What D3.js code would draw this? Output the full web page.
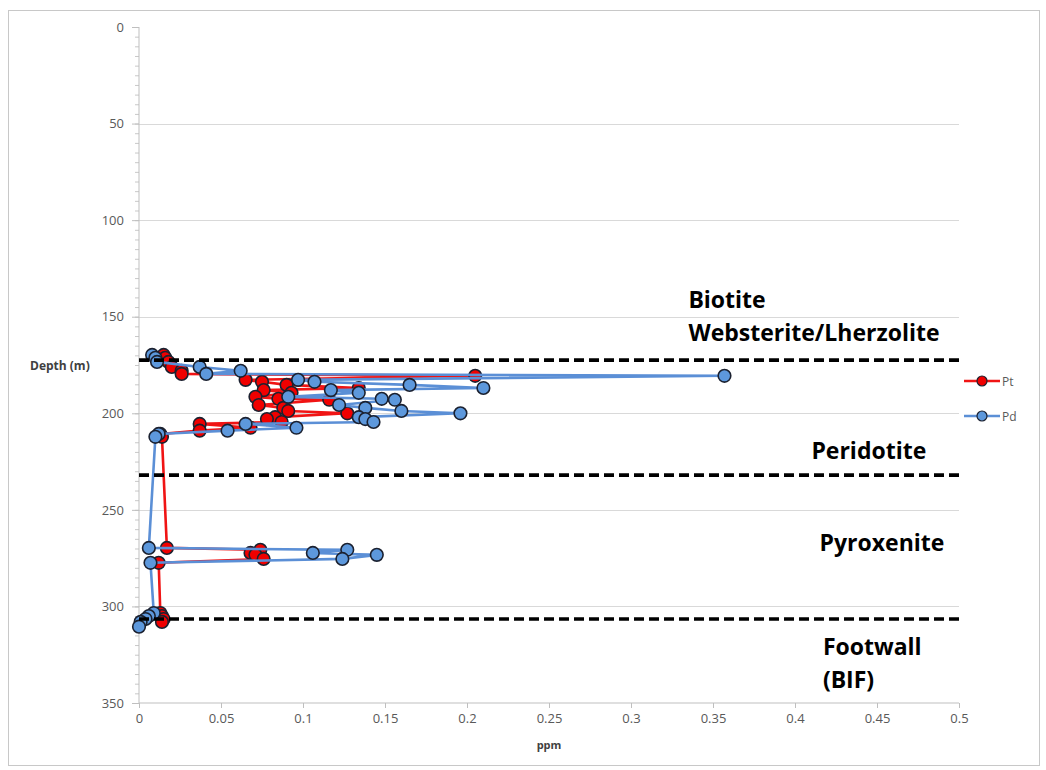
<!DOCTYPE html>
<html>
<head>
<meta charset="utf-8">
<script src="https://cdn.jsdelivr.net/npm/d3@7"></script>
<style>
  html, body { margin: 0; padding: 0; background: #fff; }
  svg { display: block; }
</style>
</head>
<body>
<svg id="chart" width="1046" height="770"></svg>
<script>
// Sample depths (m) and assay values (ppm) for Pt and Pd
const depth = [169.8, 171.3, 173.4, 176.0, 178.0, 179.6, 180.6, 182.7, 183.7, 185.3,
               186.9, 188.0, 189.4, 191.5, 192.5, 193.0, 195.7, 197.2, 198.8, 200.0,
               202.0, 203.0, 204.5, 205.5, 207.5, 209.0, 210.7, 212.2,
               269.7, 270.7, 272.3, 273.3, 275.4, 277.4,
               303.4, 305.0, 306.5, 308.0, 310.5];
const pt = [0.015, 0.016, 0.018, 0.020, 0.026, 0.026, 0.205, 0.065, 0.075, 0.090,
            0.134, 0.076, 0.093, 0.071, 0.085, 0.116, 0.073, 0.088, 0.091, 0.127,
            0.083, 0.078, 0.087, 0.037, 0.068, 0.037, 0.013, 0.014,
            0.017, 0.074, 0.068, 0.071, 0.076, 0.012,
            0.013, 0.014, 0.015, 0.014, null];
const pd = [0.008, 0.010, 0.011, 0.037, 0.062, 0.041, 0.357, 0.097, 0.107, 0.165,
            0.210, 0.117, 0.134, 0.091, 0.148, 0.156, 0.122, 0.138, 0.160, 0.196,
            0.134, 0.138, 0.143, 0.065, 0.096, 0.054, 0.012, 0.010,
            0.006, 0.127, 0.106, 0.145, 0.124, 0.007,
            0.009, 0.006, 0.004, 0.001, 0.000];

const seriesNames = ["Pt", "Pd"];
const xTicks = [0, 0.05, 0.1, 0.15, 0.2, 0.25, 0.3, 0.35, 0.4, 0.45, 0.5];
const yTicks = [0, 50, 100, 150, 200, 250, 300, 350];

// Unit boundaries (dashed) and unit names
const boundaries = [172.5, 232, 306.5];
const unitLabels = [
  { lines: ["Biotite", "Websterite/Lherzolite"], depth: 145.5, ppm: 0.335 },
  { lines: ["Peridotite"], depth: 223.5, ppm: 0.41 },
  { lines: ["Pyroxenite"], depth: 271.5, ppm: 0.415 },
  { lines: ["Footwall", "(BIF)"], depth: 325, ppm: 0.417 }
];

const svg = d3.select("#chart");
const margin = { left: 139, right: 87, top: 27, bottom: 67 };
const W = 1046, H = 770;
const x = d3.scaleLinear().domain([0, 0.5]).range([margin.left, W - margin.right]);
const y = d3.scaleLinear().domain([0, 350]).range([margin.top, H - margin.bottom]);

const font = "'Open Sans', 'Liberation Sans', sans-serif";
const colors = { Pt: { line: "#f01414", fill: "#f00000" }, Pd: { line: "#5b8fd6", fill: "#5d98dc" } };

// Outer chart frame
svg.append("rect").attr("x", 8.5).attr("y", 10.5).attr("width", 1031).attr("height", 755)
  .attr("fill", "none").attr("stroke", "#c8c8c8").attr("stroke-width", 1);

// Horizontal gridlines
svg.append("g").selectAll("line").data(yTicks.filter(t => t > 0 && t < 350)).join("line")
  .attr("x1", x(0)).attr("x2", x(0.5))
  .attr("y1", d => Math.round(y(d)) + 0.5).attr("y2", d => Math.round(y(d)) + 0.5)
  .attr("stroke", "#d9d9d9").attr("stroke-width", 1.2);

// Y axis with minor ticks every 5 m
const yMinor = d3.axisLeft(y).tickValues(d3.range(0, 351, 5)).tickSize(4).tickFormat("");
const gyMinor = svg.append("g").attr("transform", `translate(${x(0)},0)`).call(yMinor);
gyMinor.select(".domain").remove();
gyMinor.selectAll("line").attr("stroke", "#c8c8c8");

const yAxis = d3.axisLeft(y).tickValues(yTicks).tickSize(7).tickPadding(8).tickFormat(d3.format("d"));
const gy = svg.append("g").attr("transform", `translate(${x(0)},0)`).call(yAxis);
gy.select(".domain").attr("stroke", "#bfbfbf").attr("d", `M0,${y(0)}V${y(350)}`);
gy.selectAll("line").attr("stroke", "#bfbfbf");
gy.selectAll("text").attr("fill", "#595959").style("font", `13px ${font}`);

// X axis
const xAxis = d3.axisBottom(x).tickValues(xTicks).tickSize(5).tickPadding(6)
  .tickFormat(d => d === 0 ? "0" : String(+d.toFixed(2)));
const gx = svg.append("g").attr("transform", `translate(0,${y(350)})`).call(xAxis);
gx.select(".domain").attr("stroke", "#bfbfbf").attr("d", `M${x(0)},0H${x(0.5)}`);
gx.selectAll("line").attr("stroke", "#bfbfbf");
gx.selectAll("text").attr("fill", "#595959").style("font", `13px ${font}`);

// Axis titles
svg.append("text").attr("x", x(0.25)).attr("y", 749).attr("text-anchor", "middle")
  .attr("fill", "#404040").style("font", `bold 11px ${font}`).text("ppm");
svg.append("text").attr("x", 30).attr("y", 370)
  .attr("fill", "#404040").style("font", `bold 12px ${font}`).text("Depth (m)");

// Data series: Pt drawn first, Pd on top
const seriesData = { Pt: pt, Pd: pd };
const line = d3.line().defined(d => d.v != null).x(d => x(d.v)).y(d => y(d.d));
seriesNames.forEach(name => {
  const pts = depth.map((d, i) => ({ d, v: seriesData[name][i] }));
  const g = svg.append("g");
  g.append("path").datum(pts).attr("d", line).attr("fill", "none")
    .attr("stroke", colors[name].line).attr("stroke-width", 2.6).attr("stroke-linejoin", "round");
  g.selectAll("circle").data(pts.filter(p => p.v != null)).join("circle")
    .attr("cx", d => x(d.v)).attr("cy", d => y(d.d)).attr("r", 6.3)
    .attr("fill", colors[name].fill).attr("stroke", "#1b2130").attr("stroke-width", 1.6);
});

// Unit boundaries
svg.append("g").selectAll("line").data(boundaries).join("line")
  .attr("x1", x(0)).attr("x2", x(0.5) + 2)
  .attr("y1", d => y(d)).attr("y2", d => y(d))
  .attr("stroke", "#000").attr("stroke-width", 3.6).attr("stroke-dasharray", "10,5");

// Unit labels
unitLabels.forEach(u => {
  const t = svg.append("text").attr("x", x(u.ppm)).attr("y", y(u.depth))
    .attr("fill", "#000").style("font", `bold 23px ${font}`);
  u.lines.forEach((s, i) => {
    t.append("tspan").attr("x", x(u.ppm)).attr("dy", i === 0 ? 0 : 33).text(s);
  });
});

// Legend
const legend = svg.append("g");
seriesNames.forEach((name, i) => {
  const ly = 381 + i * 35;
  legend.append("line").attr("x1", 964).attr("x2", 1000).attr("y1", ly).attr("y2", ly)
    .attr("stroke", colors[name].line).attr("stroke-width", 2.6);
  legend.append("circle").attr("cx", 982).attr("cy", ly).attr("r", 5)
    .attr("fill", colors[name].fill).attr("stroke", "#1b2130").attr("stroke-width", 1.2);
  legend.append("text").attr("x", 1002).attr("y", ly + 4.5)
    .attr("fill", "#595959").style("font", `12px ${font}`).text(name);
});
</script>
</body>
</html>
